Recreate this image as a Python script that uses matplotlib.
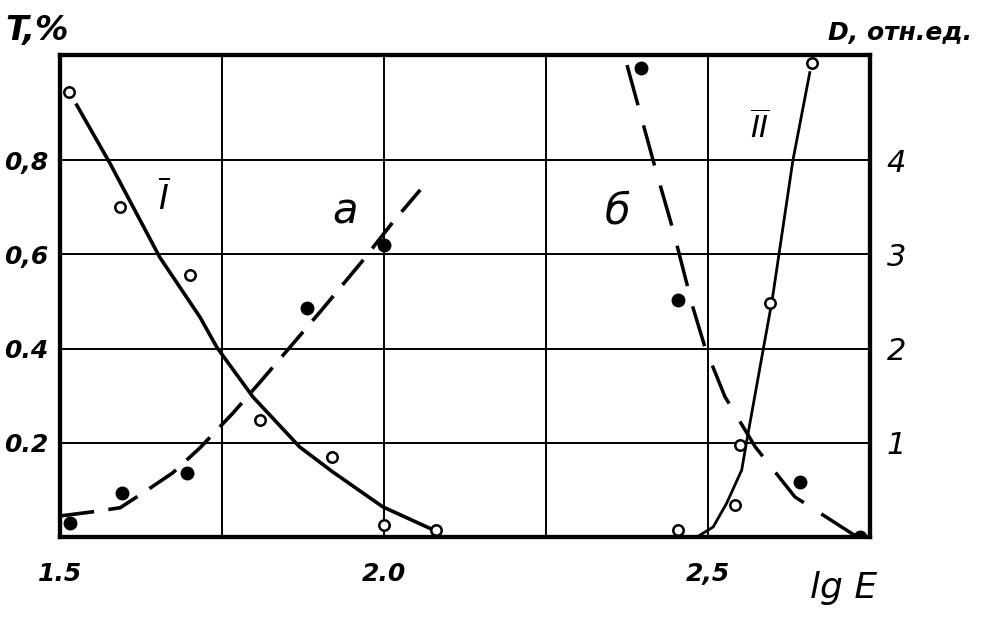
import numpy as np
import matplotlib.pyplot as plt

# curve I: transmission T, % (left axis), open circles + solid line
lgE_I = [1.514, 1.593, 1.70, 1.809, 1.92, 2.0, 2.08]
T_I = [0.945, 0.70, 0.556, 0.248, 0.17, 0.025, 0.015]
line_I_x = [1.526, 1.577, 1.654, 1.716, 1.742, 1.798, 1.870, 1.921, 1.998, 2.076]
line_I_y = [0.917, 0.794, 0.594, 0.467, 0.403, 0.297, 0.191, 0.138, 0.064, 0.015]

# curve a: T, % (left axis), filled dots + dashed line
lgE_a = [1.515, 1.596, 1.696, 1.881, 2.0]
T_a = [0.03, 0.093, 0.136, 0.486, 0.62]
line_a_x = [1.503, 1.549, 1.593, 1.631, 1.674, 1.716, 1.767, 1.809, 1.855, 1.904, 1.968, 2.014, 2.056]
line_a_y = [0.045, 0.053, 0.062, 0.096, 0.136, 0.189, 0.263, 0.329, 0.403, 0.482, 0.588, 0.669, 0.737]

# curve б: D, rel. units (right axis), filled dots + dashed line
lgE_b = [2.397, 2.454, 2.642, 2.735]
D_b = [4.98, 2.52, 0.58, 0.0]
line_b_x = [2.375, 2.418, 2.446, 2.477, 2.495, 2.526, 2.573, 2.634, 2.730]
line_b_y = [5.01, 3.93, 3.26, 2.43, 2.02, 1.49, 0.955, 0.425, 0.0]

# curve II: D (right axis), open circles + solid line
lgE_II = [2.454, 2.542, 2.549, 2.596, 2.66]
D_II = [0.07, 0.34, 0.98, 2.48, 5.03]
line_II_x = [2.483, 2.508, 2.529, 2.552, 2.560, 2.585, 2.599, 2.631, 2.657]
line_II_y = [0.0, 0.106, 0.361, 0.711, 1.03, 1.985, 2.516, 4.0, 4.93]

x_ticks = [1.5, 2.0, 2.5]
x_labels = ["1.5", "2.0", "2,5"]
t_ticks = [0.2, 0.4, 0.6, 0.8]
t_labels = ["0.2", "0.4", "0,6", "0,8"]
d_ticks = [1, 2, 3, 4]

fig = plt.figure(figsize=(9.82, 6.2), dpi=100)
ax = fig.add_axes([0.061, 0.134, 0.825, 0.777])
ax2 = ax.twinx()

ax.set_xlim(1.5, 2.75)
ax.set_ylim(0, 1.023)
ax2.set_ylim(0, 1.023 * 5)

# grid
for gx in [1.75, 2.0, 2.25, 2.5]:
    ax.axvline(gx, color="black", lw=1.4, zorder=1)
for gy in t_ticks:
    ax.axhline(gy, color="black", lw=1.4, zorder=1)

fnt = dict(fontsize=18, fontstyle="italic", fontweight="bold")

ax.plot(line_I_x, line_I_y, color="black", lw=2.6, zorder=3)
ax.plot(lgE_I, T_I, "o", ms=7.5, mfc="white", mec="black", mew=1.8, zorder=4)

ax.plot(line_a_x, line_a_y, color="black", lw=2.6, dashes=(9, 4), zorder=3)
ax.plot(lgE_a, T_a, "o", ms=9, color="black", zorder=4)

ax2.plot(line_b_x, line_b_y, color="black", lw=2.5, dashes=(12, 6), zorder=3)
ax2.plot(lgE_b, D_b, "o", ms=9, color="black", zorder=4)

ax2.plot(line_II_x, line_II_y, color="black", lw=2.0, zorder=3)
ax2.plot(lgE_II, D_II, "o", ms=7.5, mfc="white", mec="black", mew=1.8, zorder=4)

# curve labels
ax.text(1.66, 0.72, r"$\overline{I}$", fontsize=24, ha="center", va="center")
ax.text(1.94, 0.69, "a", fontsize=30, fontstyle="italic", ha="center", va="center")
ax.text(2.36, 0.69, "б", fontsize=30, fontstyle="italic", ha="center", va="center")
ax.text(2.58, 0.87, r"$\overline{II}$", fontsize=22, ha="center", va="center")

ax.set_xticks(x_ticks)
ax.set_xticklabels(x_labels, **fnt)
ax.set_yticks(t_ticks)
ax.set_yticklabels(t_labels, **fnt)
ax2.set_yticks(d_ticks)
ax2.set_yticklabels([str(d) for d in d_ticks], fontsize=22, fontstyle="italic")
ax.tick_params(axis="x", length=0, pad=18)
ax.tick_params(axis="y", length=0, pad=8)
ax2.tick_params(length=0, pad=12)

for a in (ax, ax2):
    for s in a.spines.values():
        s.set_linewidth(3)

fig.text(0.005, 0.935, "T,%", fontsize=24, fontstyle="italic", fontweight="bold")
fig.text(0.843, 0.935, "D, отн.ед.", fontsize=18, fontstyle="italic", fontweight="bold")
fig.text(0.825, 0.035, "lg E", fontsize=26, fontstyle="italic")

fig.savefig("out.png", dpi=100)
